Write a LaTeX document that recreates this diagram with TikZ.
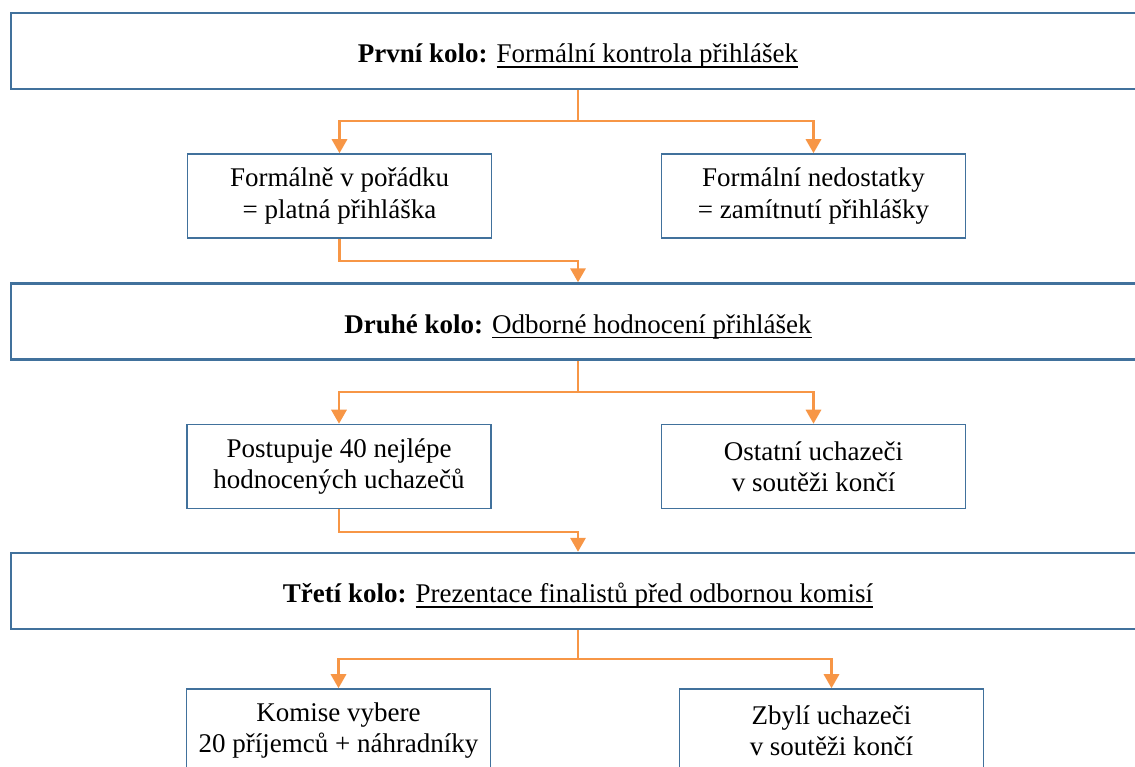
\documentclass[tikz,border=0pt]{standalone}
\usepackage{fontspec}
\setmainfont{Liberation Serif}
\usetikzlibrary{arrows.meta}

\definecolor{ramec}{RGB}{65,113,156}
\definecolor{oranz}{RGB}{247,150,70}

\newsavebox{\podbox}
\newcommand{\podtrh}[1]{\sbox{\podbox}{#1}\rlap{\rule[-2.1pt]{\wd\podbox}{0.6pt}}\usebox{\podbox}}

\begin{document}
\begin{tikzpicture}[x=0.4444pt,y=-0.4444pt,
  kolo/.style={draw=ramec,line width=1.1pt,minimum width=504pt,minimum height=33.8pt,inner sep=0pt,text height=10.6pt,text depth=0pt},
  krok/.style={draw=ramec,line width=0.75pt,minimum width=135pt,minimum height=37.3pt,inner sep=0pt,align=center},
  spoj/.style={draw=oranz,line width=1pt},
  sipka/.style={spoj,-{Triangle[width=6.8pt,length=6.2pt]}},
  font=\fontsize{12}{13.8}\selectfont]
\useasboundingbox (0,0) rectangle (1135,767);
\clip (0,0) rectangle (1135,767);

% kola
\node[kolo] (r1) at (578,51) {\textbf{První kolo:} \podtrh{Formální kontrola přihlášek}};
\node[kolo] (r2) at (578,321.5) {\textbf{Druhé kolo:} \podtrh{Odborné hodnocení přihlášek}};
\node[kolo] (r3) at (578,591) {\textbf{Třetí kolo:} \podtrh{Prezentace finalistů před odbornou komisí}};

% vysledky
\node[krok] (a) at (339.5,196) {Formálně v pořádku\\= platná přihláška};
\node[krok] (b) at (813.5,196) {Formální nedostatky\\= zamítnutí přihlášky};
\node[krok] (c) at (339,466.5) {Postupuje 40 nejlépe\\hodnocených uchazečů};
\node[krok] (d) at (813.5,466.5) {Ostatní uchazeči\\v soutěži končí};
\node[krok] (e) at (338.5,731) {Komise vybere\\20 příjemců + náhradníky};
\node[krok] (f) at (831.5,731) {Zbylí uchazeči\\v soutěži končí};

% rozdeleni
\coordinate (v1) at (578,121);
\coordinate (v2) at (578,392);
\coordinate (v3) at (578,659);
\draw[spoj] (r1.south) -- (v1);
\draw[sipka] (v1) -| (a.north);
\draw[sipka] (v1) -| (b.north);
\draw[spoj] (r2.south) -- (v2);
\draw[sipka] (v2) -| (c.north);
\draw[sipka] (v2) -| (d.north);
\draw[spoj] (r3.south) -- (v3);
\draw[sipka] (v3) -| (e.north);
\draw[sipka] (v3) -| (f.north);

% postup
\draw[sipka] (a.south) -- ++(0,22) -| (r2.north);
\draw[sipka] (c.south) -- ++(0,23) -| (r3.north);
\end{tikzpicture}
\end{document}
